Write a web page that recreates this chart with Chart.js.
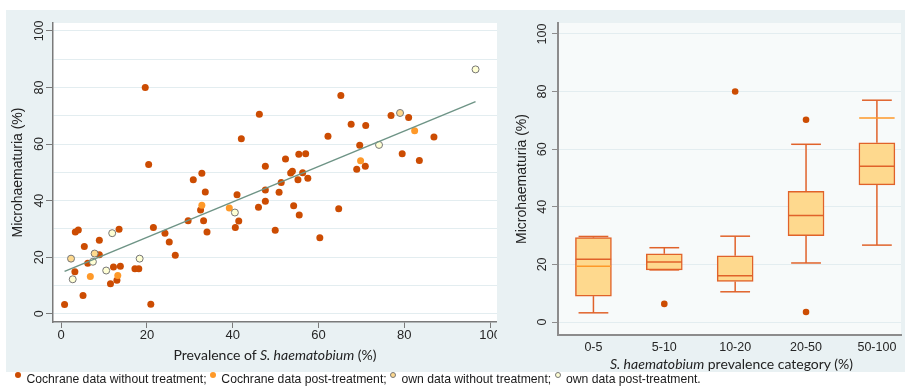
<!DOCTYPE html>
<html>
<head>
<meta charset="utf-8">
<script src="https://cdn.jsdelivr.net/npm/chart.js@4.4.1/dist/chart.umd.min.js"></script>
<style>
    html, body { margin: 0; padding: 0; background: #fff; }
    body { width: 905px; height: 391px; position: relative; overflow: hidden; }
    canvas { position: absolute; background: #e9f1f3; }
    #graficaDispersion { left: 6px; top: 10px; }
    #graficaCajas { left: 497px; top: 10px; }
    .tituloX {
        position: absolute; font: 14px Lato, sans-serif; line-height: 18px;
        text-align: center; color: #222; white-space: nowrap;
    }
    #leyenda {
        position: absolute; left: 15px; top: 372px; line-height: 18px;
        font: 12.2px "Liberation Sans", Arial, sans-serif; color: #1a1a1a; white-space: nowrap;
    }
    .punto {
        display: inline-block; width: 6px; height: 6px; border-radius: 50%;
        vertical-align: 5px; margin-right: 2px; box-sizing: border-box;
    }
</style>
</head>
<body>

<canvas id="graficaDispersion" width="520" height="362"></canvas>
<canvas id="graficaCajas" width="408" height="362"></canvas>

<div class="tituloX" style="left:53px; width:444px; top:346px;">Prevalence of <i>S. haematobium</i> (%)</div>
<div class="tituloX" style="left:558px; width:347px; top:355px;"><i>S. haematobium</i> prevalence category (%)</div>

<div id="leyenda">
    <span class="punto" style="background:#cc4c02"></span> Cochrane data without treatment;
    <span class="punto" style="background:#fe9929"></span> Cochrane data post-treatment;
    <span class="punto" style="background:#fed98e; border:1px solid #777"></span> own data without treatment;
    <span class="punto" style="background:#ffffd4; border:1px solid #777"></span> own data post-treatment.
</div>

<script>
/* ==========================================================
   DATOS - panel izquierdo (dispersión)
========================================================== */
const xTicks = [0, 20, 40, 60, 80, 100];
const yTicksLeft = [0, 10, 20, 30, 40, 50, 60, 70, 80, 90, 100];

const cochraneWithout = [
    [0.8, 3.3], [3.2, 14.9], [3.3, 28.9], [4.0, 29.6], [5.1, 6.5], [5.4, 23.8],
    [6.2, 17.9], [8.9, 20.9], [8.9, 26.0], [11.5, 10.6], [12.2, 16.5], [13.0, 11.9],
    [13.5, 29.9], [13.8, 16.8], [17.2, 15.9], [18.1, 15.9], [19.6, 80.0], [20.4, 52.8],
    [20.9, 3.4], [21.5, 30.5], [24.2, 28.5], [25.2, 25.4], [26.6, 20.7], [29.6, 32.9],
    [30.8, 47.4], [32.5, 36.7], [32.8, 49.7], [33.2, 32.9], [33.6, 43.1], [34.0, 28.9],
    [40.6, 30.5], [41.0, 42.1], [41.4, 32.8], [42.0, 61.9], [46.0, 37.7], [46.2, 70.5],
    [47.6, 52.2], [47.6, 43.8], [47.6, 39.8], [49.9, 29.5], [50.8, 43.0], [51.3, 46.4],
    [52.3, 54.7], [53.5, 49.8], [53.9, 50.4], [54.2, 38.2], [55.2, 47.4], [55.4, 56.4],
    [55.5, 34.9], [56.3, 49.9], [57.0, 56.6], [57.5, 47.9], [60.3, 26.9], [62.2, 62.8],
    [64.7, 37.1], [65.2, 77.2], [67.6, 67.0], [68.9, 51.1], [69.6, 59.6], [70.9, 52.2],
    [71.0, 66.6], [76.9, 70.1], [79.5, 56.6], [81.0, 69.4], [83.5, 54.2], [86.9, 62.5]
];

const cochranePost = [
    [6.8, 13.2], [13.2, 13.5], [32.8, 38.4], [39.2, 37.4], [69.8, 54.1], [82.4, 64.7]
];

const ownWithout = [
    [2.3, 19.5], [7.8, 21.3], [79.0, 71.0]
];

const ownPost = [
    [2.7, 12.2], [7.4, 18.4], [10.5, 15.3], [11.9, 28.5], [18.3, 19.5],
    [40.5, 35.8], [74.1, 59.7], [96.6, 86.4]
];

// recta ajustada (extremos)
const fitX = [0.8, 96.6];
const fitY = [15.0, 75.0];

/* ==========================================================
   DATOS - panel derecho (cajas)
========================================================== */
const categories = ["0-5", "5-10", "10-20", "20-50", "50-100"];
const yTicksRight = [0, 20, 40, 60, 80, 100];

const whiskerLow = [3.2, 18.1, 10.5, 20.5, 26.7];
const q1 = [9.0, 18.1, 14.1, 30.0, 47.6];
const median = [21.8, 20.8, 16.1, 37.0, 54.1];
const q3 = [29.3, 23.7, 23.0, 45.4, 62.2];
const whiskerHigh = [29.7, 25.8, 29.8, 61.7, 77.0];
const ownMarks = [19.4, null, null, null, 70.8];
const outliers = [[1, 6.3], [2, 80.0], [3, 70.2], [3, 3.5]];

/* ========================================================== */
const FUENTE = "'Liberation Sans', Arial, sans-serif";
const GRID = "#e3edf0";
const EJE = "#7a7a7a";
const OSCURO = "#cc4c02";
const CAJA_BORDE = "#e0622a";

const fondoArea = {
    id: "fondoArea",
    beforeDraw(chart, args, opts) {
        const a = chart.chartArea;
        const ctx = chart.ctx;
        ctx.save();
        ctx.fillStyle = opts.color;
        ctx.fillRect(a.left, a.top, a.right - a.left, a.bottom - a.top);
        ctx.restore();
    }
};

const puntos = arr => arr.map(([x, y]) => ({ x, y }));

function serie(data, fondo, borde) {
    return {
        type: "scatter",
        data: puntos(data),
        backgroundColor: fondo,
        borderColor: borde || fondo,
        borderWidth: borde ? 1 : 0,
        pointRadius: 3.5,
        pointHoverRadius: 3.5
    };
}

function segmento(x0, x1, y0, y1, color, orden) {
    return {
        type: "scatter",
        data: [{ x: x0, y: y0 }, { x: x1, y: y1 }],
        showLine: true,
        borderColor: color,
        borderWidth: 1.5,
        pointRadius: 0,
        order: orden
    };
}

window.onload = () => {
    crearDispersion();
    crearCajas();
};

/* ==========================================================
   DISPERSIÓN
========================================================== */
function crearDispersion() {

    const c = document.getElementById("graficaDispersion");

    new Chart(c, {
        data: {
            datasets: [
                {
                    type: "line",
                    data: fitX.map((x, i) => ({ x, y: fitY[i] })),
                    borderColor: "#6e9486",
                    borderWidth: 1.5,
                    pointRadius: 0
                },
                serie(ownPost, "#ffffd4", "#777"),
                serie(ownWithout, "#fed98e", "#777"),
                serie(cochranePost, "#fe9929"),
                serie(cochraneWithout, OSCURO)
            ]
        },
        options: {
            responsive: false,
            animation: false,
            layout: { padding: { top: 13, right: 29, left: 0, bottom: 0 } },
            plugins: {
                legend: { display: false },
                tooltip: { enabled: false },
                fondoArea: { color: "#ffffff" }
            },
            scales: {
                x: {
                    type: "linear",
                    min: -1.9,
                    max: 101.6,
                    afterBuildTicks: s => { s.ticks = xTicks.map(v => ({ value: v })); },
                    afterFit: s => { s.height = 50; },
                    grid: { drawOnChartArea: false, color: EJE, tickLength: 6 },
                    border: { color: EJE, width: 1.5 },
                    ticks: {
                        padding: 0, color: "#262626", maxRotation: 0, autoSkip: false,
                        font: { family: FUENTE, size: 13 }
                    }
                },
                y: {
                    type: "linear",
                    min: -2.9,
                    max: 102.8,
                    afterBuildTicks: s => { s.ticks = yTicksLeft.map(v => ({ value: v })); },
                    afterFit: s => { s.width = 47; },
                    grid: {
                        color: GRID,
                        tickLength: 7,
                        tickColor: ctx => ctx.tick && ctx.tick.value % 20 === 0 ? EJE : "rgba(0,0,0,0)"
                    },
                    border: { color: EJE, width: 1.5 },
                    title: {
                        display: true,
                        text: "Microhaematuria (%)",
                        color: "#222",
                        font: { family: FUENTE, size: 14 },
                        padding: { top: 3.6, bottom: 0 }
                    },
                    ticks: {
                        minRotation: 90, maxRotation: 90, crossAlign: "center",
                        padding: -4.4, autoSkip: false, color: "#262626",
                        font: { family: FUENTE, size: 12.5 },
                        callback: v => v % 20 === 0 ? v : ""
                    }
                }
            }
        },
        plugins: [fondoArea]
    });
}

/* ==========================================================
   CAJAS
========================================================== */
function crearCajas() {

    const c = document.getElementById("graficaCajas");

    const ds = [];

    ds.push({
        type: "bar",
        data: categories.map((k, i) => ({ x: i, y: [q1[i], q3[i]] })),
        backgroundColor: "#fed98e",
        borderColor: CAJA_BORDE,
        borderWidth: 1.5,
        borderSkipped: false,
        barThickness: 36,
        order: 10
    });

    categories.forEach((k, i) => {
        ds.push(segmento(i, i, whiskerLow[i], q1[i], CAJA_BORDE, 5));
        ds.push(segmento(i, i, q3[i], whiskerHigh[i], CAJA_BORDE, 5));
        ds.push(segmento(i - 0.21, i + 0.21, whiskerLow[i], whiskerLow[i], CAJA_BORDE, 5));
        ds.push(segmento(i - 0.21, i + 0.21, whiskerHigh[i], whiskerHigh[i], CAJA_BORDE, 5));
        ds.push(segmento(i - 0.25, i + 0.25, median[i], median[i], CAJA_BORDE, 2));
        if (ownMarks[i] !== null)
            ds.push(segmento(i - 0.25, i + 0.25, ownMarks[i], ownMarks[i], "#fe9929", 1));
    });

    ds.push({
        type: "scatter",
        data: puntos(outliers),
        backgroundColor: OSCURO,
        borderWidth: 0,
        pointRadius: 3.3,
        order: 0
    });

    new Chart(c, {
        type: "bar",
        data: { datasets: ds },
        options: {
            responsive: false,
            animation: false,
            layout: { padding: { top: 13, right: 0, left: 0, bottom: 0 } },
            plugins: {
                legend: { display: false },
                tooltip: { enabled: false },
                fondoArea: { color: "#f7fafa" }
            },
            scales: {
                x: {
                    type: "linear",
                    min: -0.5,
                    max: 4.34,
                    offset: false,
                    afterBuildTicks: s => { s.ticks = categories.map((k, i) => ({ value: i })); },
                    afterFit: s => { s.height = 37; },
                    grid: { display: false, drawTicks: false, offset: false },
                    border: { color: "#8c8c8c", width: 2 },
                    ticks: {
                        padding: 5.5, color: "#262626", maxRotation: 0, autoSkip: false,
                        font: { family: FUENTE, size: 12.5 },
                        callback: v => categories[v]
                    }
                },
                y: {
                    type: "linear",
                    min: -4.5,
                    max: 103.8,
                    afterBuildTicks: s => { s.ticks = yTicksRight.map(v => ({ value: v })); },
                    afterFit: s => { s.width = 61; },
                    grid: { color: GRID, tickLength: 6, tickColor: "#8c8c8c" },
                    border: { color: "#8c8c8c", width: 2 },
                    title: {
                        display: true,
                        text: "Microhaematuria (%)",
                        color: "#222",
                        font: { family: FUENTE, size: 14 },
                        padding: { top: 16.6, bottom: 0 }
                    },
                    ticks: {
                        minRotation: 90, maxRotation: 90, crossAlign: "center",
                        padding: -1.4, autoSkip: false, color: "#262626",
                        font: { family: FUENTE, size: 12.5 }
                    }
                }
            }
        },
        plugins: [fondoArea]
    });
}
</script>
</body>
</html>
